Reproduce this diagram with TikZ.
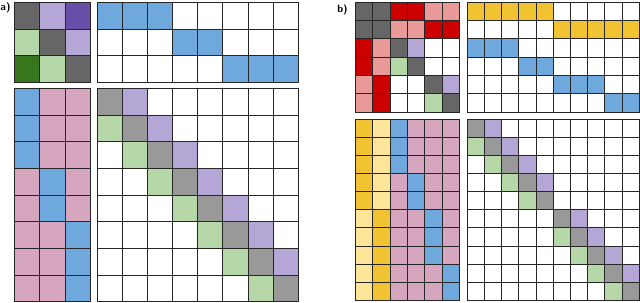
\documentclass[tikz,border=0pt]{standalone}
\usepackage{amsmath,amssymb}
\usepackage{tikz}
\usetikzlibrary{calc}

\definecolor{gk}{HTML}{666666}
\definecolor{gm}{HTML}{999999}
\definecolor{pl}{HTML}{B4A7D6}
\definecolor{pd}{HTML}{674EA7}
\definecolor{nl}{HTML}{B6D7A8}
\definecolor{nd}{HTML}{38761D}
\definecolor{bb}{HTML}{6FA8DC}
\definecolor{pk}{HTML}{D5A6BD}
\definecolor{rr}{HTML}{CC0000}
\definecolor{rl}{HTML}{EA9999}
\definecolor{yy}{HTML}{F1C232}
\definecolor{yl}{HTML}{FFE599}
\definecolor{ww}{HTML}{FFFFFF}

% block of cells: x0, y0, cell width, cell height, rows of colours
\newcommand{\matblock}[5]{%
  \foreach \row [count=\r] in {#5}{
    \foreach \c [count=\k] in \row{
      \filldraw[cell, fill=\c] ({#1+(\k-1)*#3},{#2+(\r-1)*#4}) rectangle ++(#3,#4);
    }
  }
}

\begin{document}
\begin{tikzpicture}[x=0.03cm,y=-0.03cm]
	\tikzstyle{cell}=[draw=black!85, line width=0.85pt]
	\tikzstyle{tag}=[font=\sffamily\bfseries\small, inner sep=0pt]
  \useasboundingbox (0,0) rectangle (640,302);

  % Annotations
  \node[tag] (laba) at (5.5,8) {a)};
  \node[tag] (labb) at (342.5,9.5) {b)};

  % a)
  \matblock{14.3}{2.5}{25.55}{26.5}{{gk,pl,pd},{nl,gk,pl},{nd,nl,gk}}
  \matblock{97.3}{2.5}{25.12}{26.5}{
    {bb,bb,bb,ww,ww,ww,ww,ww},
    {ww,ww,ww,bb,bb,ww,ww,ww},
    {ww,ww,ww,ww,ww,bb,bb,bb}}
  \matblock{14.3}{88.3}{25.55}{26.7}{
    {bb,pk,pk},{bb,pk,pk},{bb,pk,pk},
    {pk,bb,pk},{pk,bb,pk},
    {pk,pk,bb},{pk,pk,bb},{pk,pk,bb}}
  \matblock{97.3}{88.3}{25.12}{26.7}{
    {gm,pl,ww,ww,ww,ww,ww,ww},
    {nl,gm,pl,ww,ww,ww,ww,ww},
    {ww,nl,gm,pl,ww,ww,ww,ww},
    {ww,ww,nl,gm,pl,ww,ww,ww},
    {ww,ww,ww,nl,gm,pl,ww,ww},
    {ww,ww,ww,ww,nl,gm,pl,ww},
    {ww,ww,ww,ww,ww,nl,gm,pl},
    {ww,ww,ww,ww,ww,ww,nl,gm}}

  % b)
  \matblock{355.7}{2.3}{17.27}{18.3}{
    {gk,gk,rr,rr,rl,rl},
    {gk,gk,rl,rl,rr,rr},
    {rr,rl,gk,pl,ww,ww},
    {rr,rl,nl,gk,ww,ww},
    {rl,rr,ww,ww,gk,pl},
    {rl,rr,ww,ww,nl,gk}}
  \matblock{467.3}{2.3}{17.2}{18.3}{
    {yy,yy,yy,yy,yy,ww,ww,ww,ww,ww},
    {ww,ww,ww,ww,ww,yy,yy,yy,yy,yy},
    {bb,bb,bb,ww,ww,ww,ww,ww,ww,ww},
    {ww,ww,ww,bb,bb,ww,ww,ww,ww,ww},
    {ww,ww,ww,ww,ww,bb,bb,bb,ww,ww},
    {ww,ww,ww,ww,ww,ww,ww,ww,bb,bb}}
  \matblock{355.7}{119.3}{17.27}{18.1}{
    {yy,yl,bb,pk,pk,pk},{yy,yl,bb,pk,pk,pk},{yy,yl,bb,pk,pk,pk},
    {yy,yl,pk,bb,pk,pk},{yy,yl,pk,bb,pk,pk},
    {yl,yy,pk,pk,bb,pk},{yl,yy,pk,pk,bb,pk},{yl,yy,pk,pk,bb,pk},
    {yl,yy,pk,pk,pk,bb},{yl,yy,pk,pk,pk,bb}}
  \matblock{467.3}{119.3}{17.2}{18.1}{
    {gm,pl,ww,ww,ww,ww,ww,ww,ww,ww},
    {nl,gm,pl,ww,ww,ww,ww,ww,ww,ww},
    {ww,nl,gm,pl,ww,ww,ww,ww,ww,ww},
    {ww,ww,nl,gm,pl,ww,ww,ww,ww,ww},
    {ww,ww,ww,nl,gm,ww,ww,ww,ww,ww},
    {ww,ww,ww,ww,ww,gm,pl,ww,ww,ww},
    {ww,ww,ww,ww,ww,nl,gm,pl,ww,ww},
    {ww,ww,ww,ww,ww,ww,nl,gm,pl,ww},
    {ww,ww,ww,ww,ww,ww,ww,nl,gm,pl},
    {ww,ww,ww,ww,ww,ww,ww,ww,nl,gm}}

\end{tikzpicture}
\end{document}
